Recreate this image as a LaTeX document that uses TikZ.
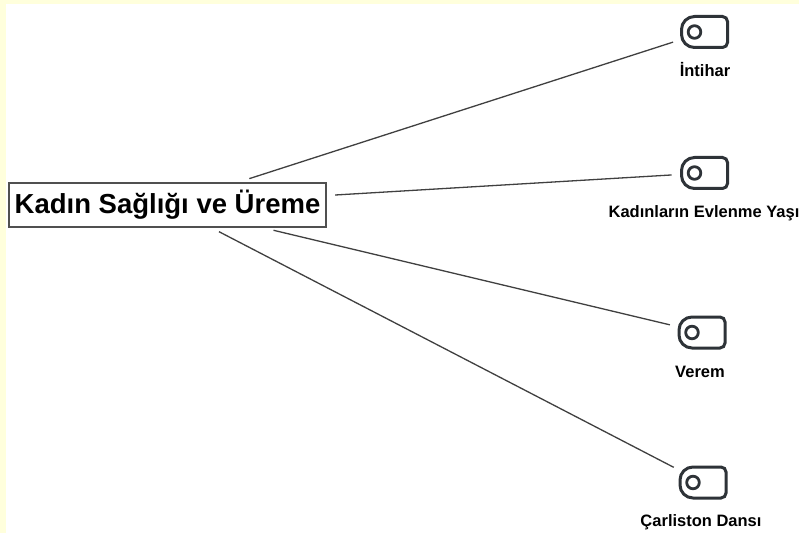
\documentclass[tikz,border=0pt]{standalone}
\usepackage{fontspec}
\setmainfont{Liberation Sans}
\definecolor{bgyellow}{HTML}{FFFFDC}
\definecolor{iconink}{HTML}{2E3338}
\definecolor{lineink}{HTML}{404040}
\definecolor{boxink}{HTML}{505050}
\tikzset{
  mainbox/.style={draw=boxink, line width=1.3pt, rectangle, minimum width=317pt, minimum height=44pt, inner sep=0pt,
    font=\fontsize{27.5}{30}\selectfont\bfseries, text=black},
  iconslot/.style={rectangle, minimum width=49pt, minimum height=34pt, inner sep=0pt},
  iconstroke/.style={draw=iconink, line width=3pt},
  lbl/.style={anchor=base, inner sep=0pt, font=\fontsize{16.5}{18}\selectfont\bfseries, text=black},
  conn/.style={draw=lineink, line width=1.3pt, shorten >=33pt}
}
\newcommand\tagicon[1]{%
  \begin{scope}[shift={(#1.center)}]
    \draw[iconstroke] (-10,15.5) -- (18,15.5) arc[start angle=90,end angle=0,radius=5]
      -- (23,-10.5) arc[start angle=0,end angle=-90,radius=5]
      -- (-10,-15.5) arc[start angle=270,end angle=180,radius=13]
      -- (-23,2.5) arc[start angle=180,end angle=90,radius=13] -- cycle;
    \draw[iconstroke, line width=2.8pt] (-10,0) circle[radius=6.3];
  \end{scope}}
\begin{document}
\begin{tikzpicture}[x=1pt,y=1pt]
  \useasboundingbox (0,0) rectangle (799,533);
  \fill[white] (0,0) rectangle (799,533);
  \fill[bgyellow] (0,529) rectangle (799,533);
  \fill[bgyellow] (0,0) rectangle (6,533);

  \node[mainbox] (main) at (167.5,328) {Kadın Sağlığı ve Üreme};

  \node[iconslot] (i1) at (704.5,501) {};
  \node[iconslot] (i2) at (704.5,360) {};
  \node[iconslot] (i3) at (702,200.5) {};
  \node[iconslot] (i4) at (703,50.5) {};
  \tagicon{i1}\tagicon{i2}\tagicon{i3}\tagicon{i4}

  \node[lbl] (l1) at (705,456) {İntihar};
  \node[lbl] (l2) at (704,315) {Kadınların Evlenme Yaşı};
  \node[lbl] (l3) at (700,156) {Verem};
  \node[lbl] (l4) at (701,7) {Çarliston Dansı};

  \draw[conn, shorten <=86pt] (main.center) -- (i1.center);
  \draw[conn, shorten <=168pt] (main.center) -- (i2.center);
  \draw[conn, shorten <=109pt] (main.center) -- (i3.center);
  \draw[conn, shorten <=58pt] (main.center) -- (i4.center);
\end{tikzpicture}
\end{document}
